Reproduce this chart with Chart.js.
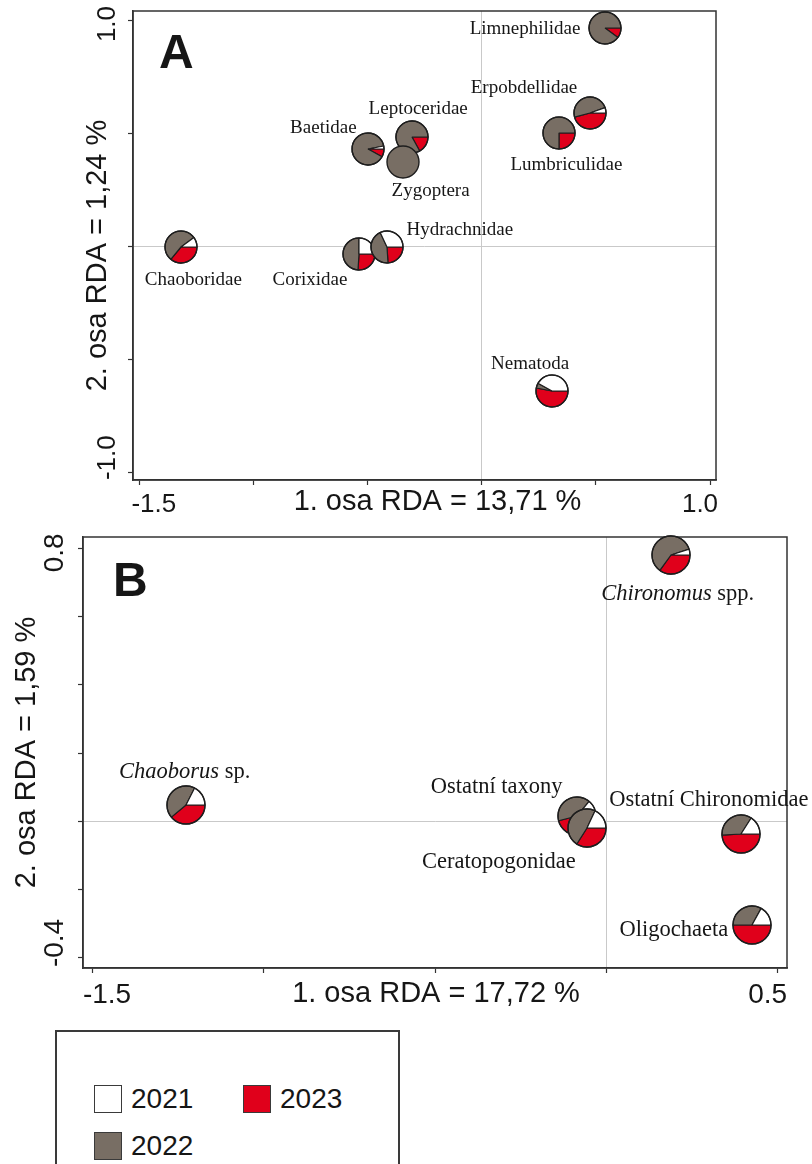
<!DOCTYPE html>
<html>
<head>
<meta charset="utf-8">
<title>RDA – podíl let v abundanci taxonů</title>
<script src="https://cdn.jsdelivr.net/npm/chart.js"></script>
<style>
  body { margin: 0; background: #fff; }
  #page { position: relative; width: 812px; height: 1164px; overflow: hidden; }
  #page canvas { position: absolute; }
  .legend { position: absolute; left: 55px; top: 1030px; width: 345px; height: 160px;
            border: 2px solid #3a3a3a; box-sizing: border-box; }
  .legend .item { position: absolute; display: flex; align-items: center; height: 28px;
                  font: 28px "Liberation Sans", Arial, sans-serif; color: #161616; }
  .legend .sw { width: 28px; height: 28px; box-sizing: border-box; border: 1.5px solid #3a3a3a; margin-right: 9px; }
</style>
</head>
<body>
<div id="page">
  <canvas id="rdaA" width="812" height="520" style="left:0;top:0"></canvas>
  <canvas id="rdaB" width="812" height="505" style="left:0;top:515px"></canvas>
  <div class="legend" id="legend"></div>
</div>
<script>
const SANS = '"Liberation Sans", Arial, sans-serif';
const SERIF = '"Liberation Serif", "Times New Roman", serif';
const INK = "#161616";
const FRAME = "#333333";

// years and their colours in the pies
const YEARS = ["2021", "2022", "2023"];
const YEAR_COLORS = ["#ffffff", "#786e64", "#e0001b"];

// ---- A: families ----
const taxaA = ["Chaoboridae", "Corixidae", "Hydrachnidae", "Baetidae", "Leptoceridae",
               "Zygoptera", "Lumbriculidae", "Erpobdellidae", "Limnephilidae", "Nematoda"];
const italicA = ["", "", "", "", "", "", "", "", "", ""];
const rda1A = [-1.316, -0.538, -0.416, -0.497, -0.305, -0.347, 0.340, 0.474, 0.540, 0.308];
const rda2A = [-0.006, -0.035, -0.006, 0.429, 0.484, 0.372, 0.500, 0.590, 0.963, -0.640];
// share of each year in the abundance of the taxon
const share2021A = [0.10, 0.25, 0.32, 0.03, 0.00, 0.00, 0.00, 0.055, 0.00, 0.42];
const share2022A = [0.54, 0.49, 0.44, 0.89, 0.83, 1.00, 0.75, 0.487, 0.90, 0.05];
const share2023A = [0.36, 0.26, 0.24, 0.08, 0.17, 0.00, 0.25, 0.458, 0.10, 0.53];
const xTicksA = [-1.5, -1.0, -0.5, 0, 0.5, 1.0];
const xLabelsA = ["-1.5", "", "", "", "", "1.0"];
const yTicksA = [-1.0, -0.5, 0, 0.5, 1.0];
const yLabelsA = ["-1.0", "", "", "", "1.0"];
const xTitleA = "1. osa RDA = 13,71 %";
const yTitleA = "2. osa RDA = 1,24 %";

// ---- B: Chironomidae & co. ----
const taxaB = ["Chaoborus sp.", "Ostatní taxony", "Ceratopogonidae", "Chironomus spp.",
               "Ostatní Chironomidae", "Oligochaeta"];
const italicB = ["Chaoborus", "", "", "Chironomus", "", ""];
const rda1B = [-1.229, -0.086, -0.056, 0.189, 0.394, 0.426];
const rda2B = [0.047, 0.015, -0.020, 0.782, -0.038, -0.306];
const share2021B = [0.175, 0.14, 0.18, 0.05, 0.16, 0.17];
const share2022B = [0.435, 0.40, 0.48, 0.60, 0.35, 0.33];
const share2023B = [0.39, 0.46, 0.34, 0.35, 0.49, 0.50];
const xTicksB = [-1.5, -1.0, -0.5, 0, 0.5];
const xLabelsB = ["-1.5", "", "", "", "0.5"];
const yTicksB = [-0.4, -0.2, 0, 0.2, 0.4, 0.6, 0.8];
const yLabelsB = ["-0.4", "", "", "", "", "", "0.8"];
const xTitleB = "1. osa RDA = 17,72 %";
const yTitleB = "2. osa RDA = 1,59 %";

// label placement around each pie (px from centre)
const labelOffsetsA = [[12, 33], [-49, 26], [73, -17], [-45, -21], [6, -28],
                       [28, 29], [7, 32], [-66, -25], [-80, 1], [-22, -27]];
const labelOffsetsB = [[-1, -33], [-80, -29], [-88, 34], [7, 39], [-32, -34], [-78, 5]];

const layoutA = {
  top: 0, xRange: [-1.528, 1.026], yRange: [-1.035, 1.04],
  padTop: 11, padRight: 96, yWidth: 133, xHeight: 40,
  pieR: 16, labelSize: 19, tickSize: 26, titleSize: 29, edgeShift: 8,
  xTickDy: 25, yTickDx: -25, xTitleDx: 13, xTitleDy: 22, yTitleDx: -35, yTitleDy: 10,
  letterDx: 26, letterDy: 57
};
const layoutB = {
  top: 515, xRange: [-1.529, 0.529], yRange: [-0.432, 0.835],
  padTop: 22, padRight: 25, yWidth: 83, xHeight: 52,
  pieR: 19, labelSize: 22.5, tickSize: 28, titleSize: 29, edgeShift: 10,
  xTickDy: 27, yTickDx: -28, xTitleDx: 1, xTitleDy: 26, yTitleDx: -56, yTitleDy: 0,
  letterDx: 30, letterDy: 59
};

const panels = [
  { canvas: "rdaA", letter: "A", taxa: taxaA, italic: italicA, rda1: rda1A, rda2: rda2A,
    shares: [share2021A, share2022A, share2023A], xTicks: xTicksA, xLabels: xLabelsA,
    yTicks: yTicksA, yLabels: yLabelsA, xTitle: xTitleA, yTitle: yTitleA,
    offsets: labelOffsetsA, L: layoutA },
  { canvas: "rdaB", letter: "B", taxa: taxaB, italic: italicB, rda1: rda1B, rda2: rda2B,
    shares: [share2021B, share2022B, share2023B], xTicks: xTicksB, xLabels: xLabelsB,
    yTicks: yTicksB, yLabels: yLabelsB, xTitle: xTitleB, yTitle: yTitleB,
    offsets: labelOffsetsB, L: layoutB }
];

// frame, axis texts, panel letter and taxon names
function panelDecor(p) {
  const L = p.L;
  return {
    id: "panelDecor",
    afterDraw(chart) {
      const { ctx, chartArea: a, scales: { x: xs, y: ys } } = chart;
      ctx.save();
      ctx.strokeStyle = FRAME;
      ctx.lineWidth = 1.5;
      ctx.strokeRect(a.left, a.top, a.width, a.height);

      ctx.fillStyle = INK;
      ctx.textBaseline = "middle";
      ctx.font = `${L.tickSize}px ${SANS}`;
      p.xTicks.forEach((v, i) => {
        const t = p.xLabels[i];
        if (!t) return;
        const px = xs.getPixelForValue(v);
        const first = i === 0, last = i === p.xTicks.length - 1;
        ctx.textAlign = first ? "left" : last ? "right" : "center";
        ctx.fillText(t, px + (first ? -L.edgeShift : last ? L.edgeShift : 0), a.bottom + L.xTickDy);
      });
      p.yTicks.forEach((v, i) => {
        const t = p.yLabels[i];
        if (!t) return;
        const py = ys.getPixelForValue(v);
        const first = i === 0;
        ctx.save();
        ctx.translate(a.left + L.yTickDx, first ? py + L.edgeShift : py + 4);
        ctx.rotate(-Math.PI / 2);
        ctx.textAlign = first ? "left" : "center";
        ctx.fillText(t, 0, 0);
        ctx.restore();
      });

      ctx.font = `${L.titleSize}px ${SANS}`;
      ctx.textAlign = "center";
      ctx.fillText(p.xTitle, (a.left + a.right) / 2 + L.xTitleDx, a.bottom + L.xTitleDy);
      ctx.save();
      ctx.translate(a.left + L.yTitleDx, (a.top + a.bottom) / 2 + L.yTitleDy);
      ctx.rotate(-Math.PI / 2);
      ctx.fillText(p.yTitle, 0, 0);
      ctx.restore();

      ctx.font = `bold 48px ${SANS}`;
      ctx.textAlign = "left";
      ctx.textBaseline = "alphabetic";
      ctx.fillText(p.letter, a.left + L.letterDx, a.top + L.letterDy);

      // taxon names, genus part in italics
      ctx.textBaseline = "middle";
      const pts = chart.getDatasetMeta(0).data;
      p.taxa.forEach((name, i) => {
        const it = p.italic[i];
        const rest = name.slice(it.length);
        const fIt = `italic ${L.labelSize}px ${SERIF}`, fUp = `${L.labelSize}px ${SERIF}`;
        ctx.font = fIt; const wIt = it ? ctx.measureText(it).width : 0;
        ctx.font = fUp; const wUp = ctx.measureText(rest).width;
        let x = pts[i].x + p.offsets[i][0] - (wIt + wUp) / 2;
        const y = pts[i].y + p.offsets[i][1];
        ctx.textAlign = "left";
        if (it) { ctx.font = fIt; ctx.fillText(it, x, y); x += wIt; }
        ctx.font = fUp; ctx.fillText(rest, x, y);
      });
      ctx.restore();
    }
  };
}

function axis(p, isX) {
  const L = p.L;
  const ticks = isX ? p.xTicks : p.yTicks;
  const [min, max] = isX ? L.xRange : L.yRange;
  return {
    type: "linear", position: isX ? "bottom" : "left", min, max,
    afterBuildTicks: s => { s.ticks = ticks.map(value => ({ value })); },
    afterFit: s => { if (isX) s.height = L.xHeight; else s.width = L.yWidth; },
    ticks: { display: false },
    grid: {
      drawOnChartArea: true, drawTicks: true, tickLength: 5, tickWidth: 1.2, tickColor: FRAME,
      lineWidth: 1,
      color: c => (c.tick && c.tick.value === 0 ? "#c9c9c9" : "rgba(0,0,0,0)")
    },
    border: { display: true, color: FRAME, width: 1.5 },
    title: { display: false }
  };
}

// outer ring of a pie, drawn once so single-year pies get no radial seam
const pieOutline = {
  id: "pieOutline",
  afterDatasetsDraw(chart) {
    const arc = chart.getDatasetMeta(0).data.find(a => a.circumference > 0);
    if (!arc) return;
    const { ctx } = chart;
    ctx.save();
    ctx.beginPath();
    ctx.arc(arc.x, arc.y, arc.outerRadius, 0, Math.PI * 2);
    ctx.lineWidth = 1.4;
    ctx.strokeStyle = "#1e1e1e";
    ctx.stroke();
    ctx.restore();
  }
};

function addPies(chart, p) {
  const page = document.getElementById("page");
  const r = p.L.pieR, size = 2 * r + 6;
  const pts = chart.getDatasetMeta(0).data;
  p.taxa.forEach((name, i) => {
    const cv = document.createElement("canvas");
    cv.width = size;
    cv.height = size;
    cv.style.left = (pts[i].x - size / 2) + "px";
    cv.style.top = (p.L.top + pts[i].y - size / 2) + "px";
    page.appendChild(cv);
    // clockwise from 3 o'clock: 2023, 2022, 2021 (= counter-clockwise 2021 → 2023)
    const vals = [p.shares[2][i], p.shares[1][i], p.shares[0][i]];
    const parts = vals.filter(v => v > 0).length;
    new Chart(cv, {
      type: "pie",
      data: {
        labels: [...YEARS].reverse(),
        datasets: [{
          data: vals,
          backgroundColor: [...YEAR_COLORS].reverse(),
          borderColor: "#1e1e1e",
          borderWidth: parts > 1 ? 1.2 : 0
        }]
      },
      options: {
        responsive: false, animation: false, events: [], devicePixelRatio: 1,
        rotation: 90, radius: r, layout: { padding: 0 },
        plugins: { legend: { display: false }, tooltip: { enabled: false } }
      },
      plugins: [pieOutline]
    });
  });
}

panels.forEach(p => {
  const chart = new Chart(document.getElementById(p.canvas), {
    type: "scatter",
    data: {
      datasets: [{
        label: p.letter,
        data: p.rda1.map((x, i) => ({ x, y: p.rda2[i] })),
        pointRadius: 0, pointHoverRadius: 0
      }]
    },
    options: {
      responsive: false, animation: false, events: [], devicePixelRatio: 1,
      layout: { autoPadding: false, padding: { top: p.L.padTop, right: p.L.padRight, left: 0, bottom: 0 } },
      scales: { x: axis(p, true), y: axis(p, false) },
      plugins: { legend: { display: false }, tooltip: { enabled: false } }
    },
    plugins: [panelDecor(p)]
  });
  addPies(chart, p);
});

// legend box
const legendSlots = [[94, 1085], [94, 1132], [243, 1085]];
const legend = document.getElementById("legend");
YEARS.forEach((yr, i) => {
  const item = document.createElement("div");
  item.className = "item";
  item.style.left = (legendSlots[i][0] - 57) + "px";
  item.style.top = (legendSlots[i][1] - 1032) + "px";
  item.innerHTML = `<span class="sw" style="background:${YEAR_COLORS[i]}"></span>${yr}`;
  legend.appendChild(item);
});
</script>
</body>
</html>
